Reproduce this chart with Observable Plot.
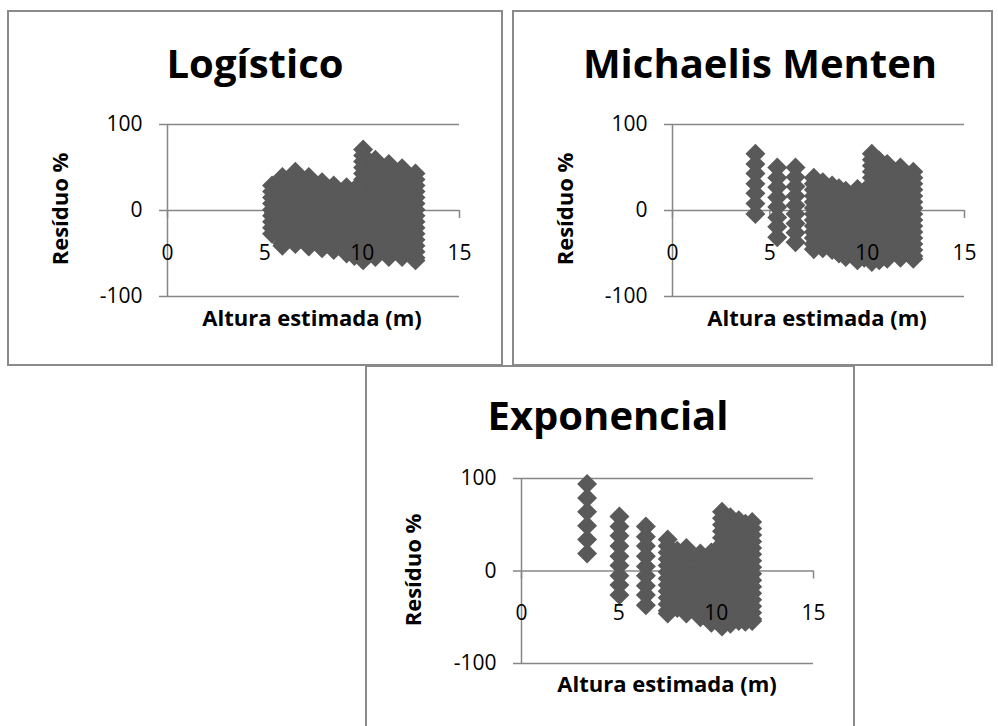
<!DOCTYPE html>
<html><head><meta charset="utf-8">
<script src="https://cdn.jsdelivr.net/npm/d3@7"></script>
<script src="https://cdn.jsdelivr.net/npm/@observablehq/plot@0.6"></script>
<style>
body{margin:0;background:#fff;}
#root{position:relative;width:998px;height:726px;overflow:hidden;font-family:"Open Sans",Lato,sans-serif;}
.frame{position:absolute;border:2px solid #8a8a8a;box-sizing:border-box;}
.plotbox{position:absolute;}
.t{position:absolute;white-space:nowrap;line-height:1;color:#000;font-weight:700;}
.title{transform:translateX(-50%);}
.xt{font-size:22px;transform:translateX(-50%);}
.yt{font-size:22px;transform:translate(-50%,-50%) rotate(-90deg);}
</style></head><body><div id="root"></div>
<script>
// ---- labels & ticks ----
const titles = ["Logístico", "Michaelis Menten", "Exponencial"];
const xLabel = "Altura estimada (m)";
const yLabel = "Resíduo %";
const xTicks = [0, 5, 10, 15];
const yTicks = [-100, 0, 100];

// ---- Logístico: estimated height columns and residuals (%) ----
const logX = [5.37, 5.9, 6.57, 7.26, 7.94, 8.54, 9.2, 9.6, 10.05, 10.68, 11.37, 12.05, 12.74];
const logY = [
  [29, 22, 15, 8, 1, -6, -13, -20, -27],
  [39, 32, 25, 18, 11, 4, -3, -10, -17, -24, -31, -38, -41],
  [45, 38, 31, 24, 17, 10, 3, -4, -11, -18, -25, -32, -39],
  [39, 32, 25, 18, 11, 4, -3, -10, -17, -24, -31, -38, -42],
  [33, 26, 19, 12, 5, -2, -9, -16, -23, -30, -37, -44],
  [29, 22, 15, 8, 1, -6, -13, -20, -27, -34, -41, -46],
  [27, 20, 13, 6, -1, -8, -15, -22, -29, -36, -43, -50],
  [24, 17, 10, 3, -4, -11, -18, -25, -32, -39, -46, -53],
  [71, 64, 57, 50, 43, 36, 29, 22, 15, 8, 1, -6, -13, -20, -27, -34, -41, -48, -55, -58],
  [59, 52, 45, 38, 31, 24, 17, 10, 3, -4, -11, -18, -25, -32, -39, -46, -54],
  [54, 47, 40, 33, 26, 19, 12, 5, -2, -9, -16, -23, -30, -37, -44, -51, -54],
  [49, 42, 35, 28, 21, 14, 7, 0, -7, -14, -21, -28, -35, -42, -49, -54],
  [43, 36, 29, 22, 15, 8, 1, -6, -13, -20, -27, -34, -41, -48, -55, -58]
];

// ---- Michaelis Menten ----
const mmX = [4.26, 5.38, 6.32, 7.26, 7.72, 8.2, 8.55, 8.9, 9.5, 9.85, 10.24, 10.62, 11.03, 11.71, 12.37];
const mmY = [
  [66, 54, 43, 31, 20, 8, -4],
  [50, 38, 27, 15, 4, -8, -19, -31],
  [50, 39, 28, 17, 6, -4, -15, -26, -37],
  [38, 31, 24, 17, 10, 3, -4, -11, -18, -25, -32, -39, -45],
  [33, 26, 19, 12, 5, -2, -9, -16, -23, -30, -37, -44],
  [29, 22, 15, 8, 1, -6, -13, -20, -27, -34, -41, -46],
  [26, 19, 12, 5, -2, -9, -16, -23, -30, -37, -44, -50],
  [23, 16, 9, 2, -5, -12, -19, -26, -33, -40, -47, -54],
  [25, 18, 11, 4, -3, -10, -17, -24, -31, -38, -45, -52, -58],
  [22, 15, 8, 1, -6, -13, -20, -27, -34, -41, -48, -55],
  [66, 59, 52, 45, 38, 31, 24, 17, 10, 3, -4, -11, -18, -25, -32, -39, -46, -53, -60],
  [58, 51, 44, 37, 30, 23, 16, 9, 2, -5, -12, -19, -26, -33, -40, -47, -54, -58],
  [54, 47, 40, 33, 26, 19, 12, 5, -2, -9, -16, -23, -30, -37, -44, -51, -56],
  [50, 43, 36, 29, 22, 15, 8, 1, -6, -13, -20, -27, -34, -41, -48, -55],
  [45, 38, 31, 24, 17, 10, 3, -4, -11, -18, -25, -32, -39, -46, -53, -56]
];

// ---- Exponencial ----
const expX = [3.37, 5.03, 6.39, 7.51, 8.0, 8.47, 9.19, 9.75, 10.3, 10.73, 11.16, 11.5, 11.85];
const expY = [
  [94, 79, 64, 49, 34, 19],
  [59, 48, 38, 27, 16, 6, -5, -15, -26],
  [48, 37, 27, 16, 5, -5, -16, -26, -37],
  [34, 27, 20, 13, 6, -1, -8, -15, -22, -29, -36, -43, -46],
  [22, 15, 8, 1, -6, -13, -20, -27, -34, -40],
  [25, 18, 11, 4, -3, -10, -17, -24, -31, -38, -46],
  [19, 12, 5, -2, -9, -16, -23, -30, -37, -44, -50],
  [20, 13, 6, -1, -8, -15, -22, -29, -36, -43, -50, -56],
  [64, 57, 50, 43, 36, 29, 22, 15, 8, 1, -6, -13, -20, -27, -34, -41, -48, -55, -60],
  [58, 51, 44, 37, 30, 23, 16, 9, 2, -5, -12, -19, -26, -33, -40, -47, -54, -57],
  [55, 48, 41, 34, 27, 20, 13, 6, -1, -8, -15, -22, -29, -36, -43, -50, -54],
  [51, 44, 37, 30, 23, 16, 9, 2, -5, -12, -19, -26, -33, -40, -47, -55],
  [53, 46, 39, 32, 25, 18, 11, 4, -3, -10, -17, -24, -31, -38, -45, -52, -54]
];

const toPoints = (xs, ys) => xs.flatMap((x, i) => ys[i].map(y => ({x, y})));

const GRAY = "#868686";
const DOT = "#595959";
const FONT = "'Open Sans', Lato, sans-serif";
const fmt = d => String(d); // plain hyphen-minus as in the original

const panels = [
  {data: toPoints(logX, logY), title: titles[0],
   frame: {left: 7, top: 10, width: 496, height: 356},
   svg: {left: 8, top: 11, width: 494, height: 354, mL: 159, mR: 43, mT: 113, mB: 69},
   xPad: -51, titleX: 255, titleTop: 43, ytX: 59, ytY: 209, xtX: 312, xtTop: 305.5},
  {data: toPoints(mmX, mmY), title: titles[1],
   frame: {left: 512, top: 10, width: 481, height: 356},
   svg: {left: 513, top: 11, width: 479, height: 354, mL: 159, mR: 28, mT: 113, mB: 69},
   xPad: -51, titleX: 760, titleTop: 43, ytX: 564, ytY: 209, xtX: 817, xtTop: 305.5},
  {data: toPoints(expX, expY), title: titles[2],
   frame: {left: 365, top: 365, width: 490, height: 400},
   svg: {left: 366, top: 366, width: 488, height: 360, mL: 155, mR: 41, mT: 112, mB: 63},
   xPad: -58, titleX: 608, titleTop: 395, ytX: 412, ytY: 570, xtX: 667, xtTop: 671.5}
];

const root = document.getElementById("root");

function add(tag, cls, styles, text) {
  const el = document.createElement(tag);
  el.className = cls;
  Object.assign(el.style, styles);
  if (text != null) el.textContent = text;
  root.appendChild(el);
  return el;
}

for (const p of panels) {
  add("div", "frame", {left: p.frame.left + "px", top: p.frame.top + "px", width: p.frame.width + "px", height: p.frame.height + "px"});
}

for (const p of panels) {
  const s = p.svg;
  const chart = Plot.plot({
    width: s.width, height: s.height,
    marginLeft: s.mL, marginRight: s.mR, marginTop: s.mT, marginBottom: s.mB,
    x: {domain: [xTicks[0], xTicks[xTicks.length - 1]]},
    y: {domain: [yTicks[0], yTicks[yTicks.length - 1]]},
    style: {background: "transparent", overflow: "visible", fontFamily: FONT, fontSize: "21px"},
    marks: [
      Plot.ruleY(yTicks, {stroke: GRAY, strokeWidth: 1.5}),
      Plot.ruleX([xTicks[0]], {stroke: GRAY, strokeWidth: 1.5}),
      Plot.ruleX(xTicks, {y1: 0, y2: 0, insetTop: 8, stroke: GRAY, strokeWidth: 1.5}),
      Plot.dot(p.data, {x: "x", y: "y", symbol: "diamond2", r: 9, fill: DOT, stroke: "none"}),
      Plot.axisY(yTicks, {tickSize: 8, tickPadding: 17, tickFormat: fmt, stroke: GRAY, strokeWidth: 1.5, fill: "#000", fontSize: 21, fontFamily: FONT, label: null}),
      Plot.axisX(xTicks, {anchor: "bottom", tickSize: 0, tickPadding: p.xPad, tickFormat: fmt, fill: "#000", fontSize: 21, fontFamily: FONT, label: null})
    ]
  });
  const box = add("div", "plotbox", {left: s.left + "px", top: s.top + "px", width: s.width + "px", height: s.height + "px"});
  box.appendChild(chart);
}

for (const p of panels) {
  add("div", "t title", {left: p.titleX + "px", top: p.titleTop + "px", fontSize: "40px"}, p.title);
  add("div", "t yt", {left: p.ytX + "px", top: p.ytY + "px"}, yLabel);
  add("div", "t xt", {left: p.xtX + "px", top: p.xtTop + "px"}, xLabel);
}
</script></body></html>
